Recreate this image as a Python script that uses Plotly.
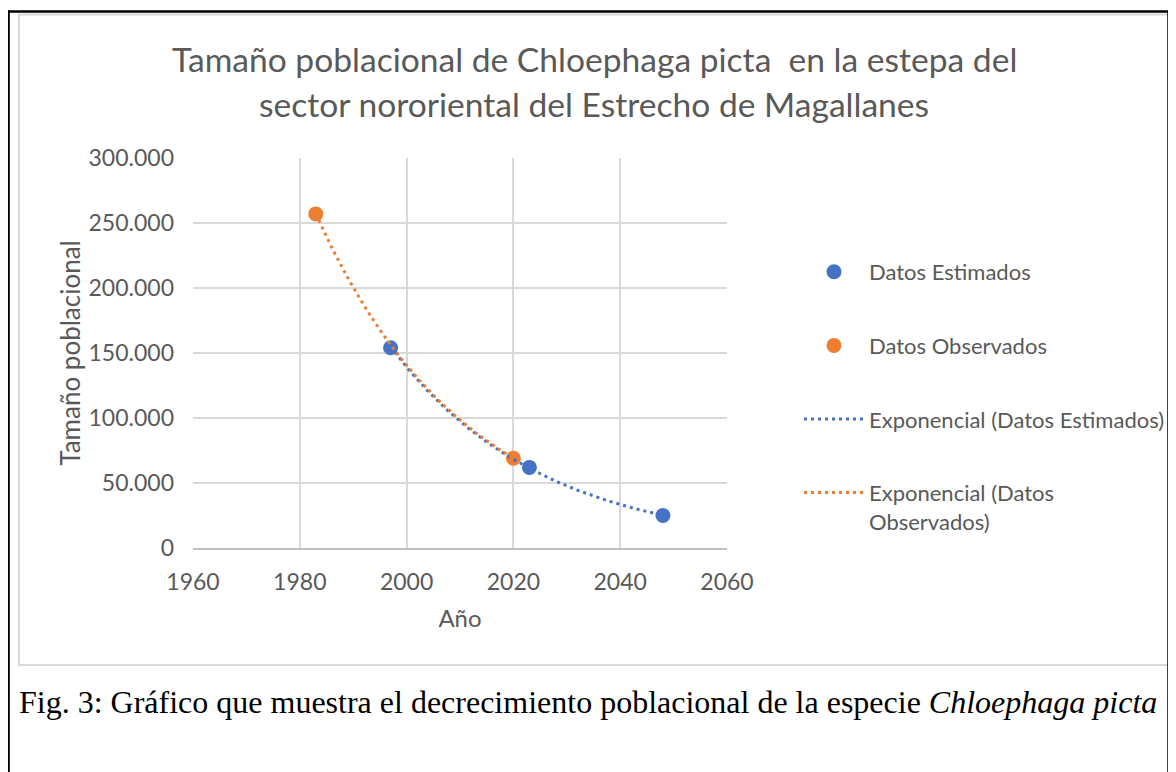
import numpy as np
import plotly.graph_objects as go

# ---- data ----
est_years = [1997, 2023, 2048]
est_values = [154000, 62000, 25000]
obs_years = [1983, 2020]
obs_values = [257000, 69000]

title_lines = ["Tamaño poblacional de Chloephaga picta  en la estepa del",
               "sector nororiental del Estrecho de Magallanes"]
x_title = "Año"
y_title = "Tamaño poblacional"
caption = "Fig. 3: Gráfico que muestra el decrecimiento poblacional de la especie <i>Chloephaga picta</i>"

BLUE = "#4472C4"
ORANGE = "#ED7D31"
GRAY_TXT = "#595959"
GRID = "#d9d9d9"
FONT = "Lato"

OFF = 8  # browser body margin
W, H = 1176 - OFF, 772 - OFF
# plot area in screen pixels
SL, SR, ST, SB = 193, 727, 158, 548
L, R, T, B = SL - OFF, SR - OFF, ST - OFF, SB - OFF


def sx(xs):
    """screen x pixel -> paper coordinate"""
    return (xs - OFF - L) / (R - L)


def sy(ys):
    """screen y pixel -> paper coordinate"""
    return (B - (ys - OFF)) / (B - T)


def exp_trend(xs, ys):
    b, ln_a = np.polyfit(xs, np.log(ys), 1)
    xx = np.linspace(min(xs), max(xs), 200)
    return xx, np.exp(ln_a + b * xx)


DOT = "3px,4px"

fig = go.Figure()
fig.add_trace(go.Scatter(x=est_years, y=est_values, mode="markers", name="Datos Estimados",
                         marker=dict(color=BLUE, size=15), legendgroup="a"))
fig.add_trace(go.Scatter(x=obs_years, y=obs_values, mode="markers", name="Datos Observados",
                         marker=dict(color=ORANGE, size=15), legendgroup="b"))
tx, ty = exp_trend(est_years, est_values)
fig.add_trace(go.Scatter(x=tx, y=ty, mode="lines", name="Exponencial (Datos Estimados)",
                         line=dict(color=BLUE, width=3, dash=DOT), legendgroup="c"))
tx, ty = exp_trend(obs_years, obs_values)
fig.add_trace(go.Scatter(x=tx, y=ty, mode="lines", name="Exponencial (Datos<br>Observados)",
                         line=dict(color=ORANGE, width=3, dash=DOT), legendgroup="d"))

shapes = [
    # inner chart frame (light gray)
    dict(type="rect", xref="paper", yref="paper", x0=sx(19), x1=sx(1200), y0=sy(14.5), y1=sy(665),
         line=dict(color="#d9d9d9", width=2), layer="below"),
    # outer document frame (black): left, top, right
    dict(type="line", xref="paper", yref="paper", x0=sx(8.8), x1=sx(8.8), y0=sy(10.5), y1=sy(800),
         line=dict(color="black", width=2)),
    dict(type="line", xref="paper", yref="paper", x0=sx(6), x1=sx(1170), y0=sy(11.5), y1=sy(11.5),
         line=dict(color="black", width=2.5)),
    dict(type="line", xref="paper", yref="paper", x0=sx(1168.5), x1=sx(1168.5), y0=sy(10.5), y1=sy(800),
         line=dict(color="black", width=2.5)),
]

annotations = [
    dict(text=title_lines[0], xref="paper", yref="paper", x=sx(594), y=sy(59), showarrow=False,
         font=dict(family=FONT, size=33.6, color=GRAY_TXT), xanchor="center", yanchor="middle"),
    dict(text=title_lines[1], xref="paper", yref="paper", x=sx(594), y=sy(104), showarrow=False,
         font=dict(family=FONT, size=33.6, color=GRAY_TXT), xanchor="center", yanchor="middle"),
    dict(text=caption, xref="paper", yref="paper", x=sx(17), y=sy(702), showarrow=False,
         font=dict(family="Liberation Serif", size=32, color="black"), xanchor="left", yanchor="middle"),
]

fig.update_layout(
    width=W, height=H,
    margin=dict(l=L, r=W - R, t=T, b=H - B, pad=0, autoexpand=False),
    paper_bgcolor="white", plot_bgcolor="white",
    separators=",.",
    font=dict(family=FONT, color=GRAY_TXT, size=20),
    shapes=shapes,
    annotations=annotations,
    showlegend=True,
    legend=dict(x=sx(799), y=sy(251), xanchor="left", yanchor="top",
                traceorder="grouped", tracegroupgap=42, itemwidth=60,
                font=dict(family=FONT, size=22, color=GRAY_TXT), valign="top",
                bgcolor="rgba(0,0,0,0)"),
    xaxis=dict(range=[1960, 2060], dtick=20, tick0=1960, tickformat="d",
               showgrid=True, gridcolor=GRID, gridwidth=1.5,
               showline=True, linecolor="#bfbfbf", linewidth=1.5, zeroline=False,
               ticks="", ticklabelstandoff=13,
               tickfont=dict(family=FONT, size=23, color=GRAY_TXT),
               title=dict(text=x_title, font=dict(family=FONT, size=24, color=GRAY_TXT), standoff=16)),
    yaxis=dict(range=[0, 300000], dtick=50000, tickformat=",.0f",
               showgrid=True, gridcolor=GRID, gridwidth=1.5,
               showline=False, zeroline=False,
               ticks="", ticklabelstandoff=18,
               tickfont=dict(family=FONT, size=23, color=GRAY_TXT),
               title=dict(text=y_title, font=dict(family=FONT, size=26, color=GRAY_TXT), standoff=0)),
)

fig.write_html("out.html")
